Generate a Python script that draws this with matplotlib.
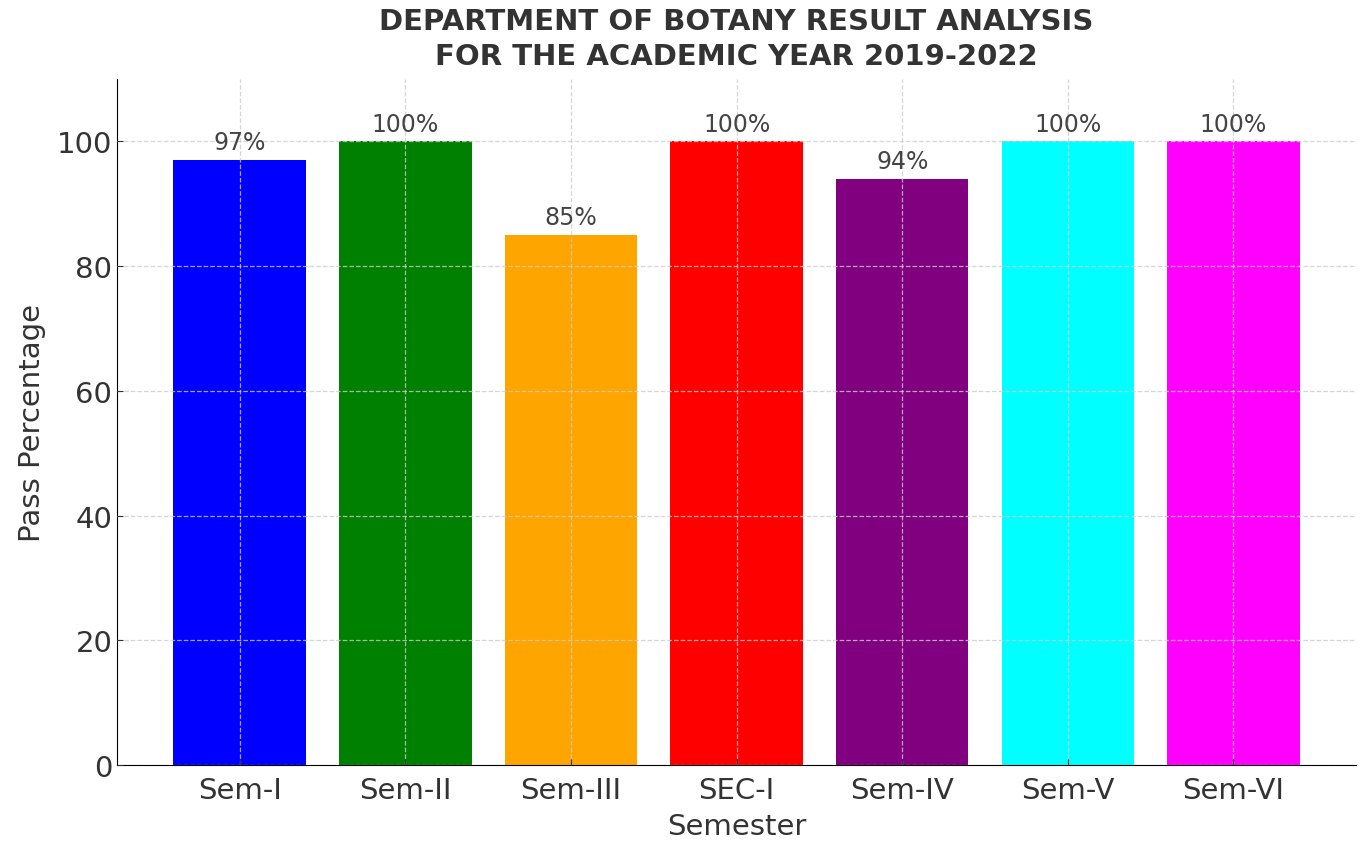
import matplotlib
matplotlib.use('Agg')
import matplotlib.pyplot as plt

semesters = ['Sem-I', 'Sem-II', 'Sem-III', 'SEC-I', 'Sem-IV', 'Sem-V', 'Sem-VI']
pass_pct = [97, 100, 85, 100, 94, 100, 100]
bar_colors = ['blue', 'green', 'orange', 'red', 'purple', 'cyan', 'magenta']

txt = '#333333'

fig = plt.figure(figsize=(13.62, 8.45), dpi=100)
ax = fig.add_axes([0.086, 0.0935, 0.9096, 0.8118])

bars = ax.bar(semesters, pass_pct, color=bar_colors, width=0.8)
for b, v in zip(bars, pass_pct):
    ax.text(b.get_x() + b.get_width() / 2, v + 0.9, f'{v}%', ha='center', va='bottom',
            fontsize=17, color='#444444')

ax.set_ylim(0, 110)
ax.set_yticks([0, 20, 40, 60, 80, 100])
ax.grid(True, linestyle='--', color='#cccccc', linewidth=0.9, alpha=0.8)
ax.set_axisbelow(False)
for s in ['top', 'right']:
    ax.spines[s].set_visible(False)
ax.tick_params(direction='in', length=4, labelsize=21, labelcolor=txt, colors='#333333')
ax.tick_params(axis='x', pad=8)
ax.set_xlabel('Semester', fontsize=21, color=txt, labelpad=6)
ax.set_ylabel('Pass Percentage', fontsize=21, color=txt, labelpad=8)
ax.set_title('DEPARTMENT OF BOTANY RESULT ANALYSIS\nFOR THE ACADEMIC YEAR 2019-2022',
             fontsize=21, fontweight='bold', color=txt, pad=11, linespacing=1.3)

fig.savefig('out.png', dpi=100)
